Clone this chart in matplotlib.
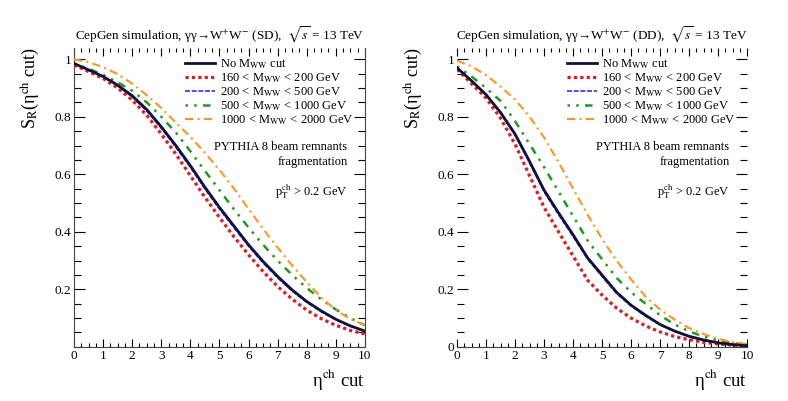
import matplotlib
matplotlib.use("Agg")
import matplotlib.pyplot as plt
from matplotlib.ticker import MultipleLocator

plt.rcParams['font.family'] = ['Liberation Serif', 'DejaVu Serif']
plt.rcParams['mathtext.fontset'] = 'stix'

eta = [0, 0.5, 1, 1.5, 2, 2.5, 3, 3.5, 4, 4.5, 5, 5.5, 6, 6.5, 7, 7.5, 8, 8.5, 9, 9.5, 10]

# single dissociation (SD)
sd_all = [0.985, 0.963, 0.94, 0.91, 0.873, 0.825, 0.765, 0.7, 0.63, 0.555, 0.485,
          0.42, 0.355, 0.297, 0.245, 0.198, 0.158, 0.125, 0.096, 0.073, 0.055]
sd_160 = [0.98, 0.957, 0.933, 0.9, 0.858, 0.805, 0.74, 0.67, 0.595, 0.52, 0.45,
          0.383, 0.32, 0.262, 0.21, 0.166, 0.128, 0.098, 0.075, 0.057, 0.045]
sd_200 = [0.985, 0.962, 0.938, 0.907, 0.869, 0.82, 0.76, 0.694, 0.624, 0.549, 0.479,
          0.414, 0.35, 0.292, 0.24, 0.194, 0.155, 0.122, 0.094, 0.072, 0.054]
sd_500 = [0.985, 0.967, 0.946, 0.92, 0.89, 0.85, 0.8, 0.745, 0.68, 0.612, 0.545,
          0.478, 0.415, 0.355, 0.3, 0.25, 0.205, 0.165, 0.13, 0.1, 0.075]
sd_1000 = [1.0, 0.99, 0.972, 0.948, 0.915, 0.875, 0.83, 0.78, 0.73, 0.675, 0.615,
           0.55, 0.48, 0.41, 0.345, 0.283, 0.225, 0.172, 0.128, 0.097, 0.075]

# double dissociation (DD)
dd_all = [0.97, 0.925, 0.877, 0.815, 0.74, 0.645, 0.545, 0.466, 0.39, 0.31, 0.25,
          0.19, 0.145, 0.11, 0.078, 0.055, 0.037, 0.024, 0.014, 0.008, 0.004]
dd_160 = [0.965, 0.915, 0.865, 0.795, 0.705, 0.595, 0.485, 0.4, 0.316, 0.232, 0.18,
          0.135, 0.1, 0.073, 0.052, 0.036, 0.025, 0.016, 0.01, 0.006, 0.003]
dd_200 = [0.97, 0.923, 0.875, 0.812, 0.736, 0.64, 0.54, 0.46, 0.384, 0.305, 0.245,
          0.186, 0.142, 0.107, 0.076, 0.054, 0.036, 0.023, 0.014, 0.008, 0.004]
dd_500 = [0.975, 0.94, 0.9, 0.855, 0.785, 0.705, 0.625, 0.54, 0.455, 0.37, 0.305,
          0.24, 0.19, 0.15, 0.11, 0.078, 0.054, 0.036, 0.022, 0.013, 0.007]
dd_1000 = [0.995, 0.975, 0.945, 0.905, 0.86, 0.8, 0.728, 0.642, 0.55, 0.46, 0.375,
           0.3, 0.235, 0.175, 0.13, 0.095, 0.065, 0.045, 0.028, 0.017, 0.01]

labels = [r"No M$_{\rm WW}$ cut",
          r"160 < M$_{\rm WW}$ < 200 GeV",
          r"200 < M$_{\rm WW}$ < 500 GeV",
          r"500 < M$_{\rm WW}$ < 1000 GeV",
          r"1000 < M$_{\rm WW}$ < 2000 GeV"]
colors = ['#10103a', '#e3191c', '#3030ff', '#1f9a1f', '#ff9420']
styles = ['-', (0, (1, 1)), (0, (3, 1)), (0, (1, 2.5, 1, 2.5, 3, 2.5)), (0, (4, 2, 1, 2))]
widths = [2.0, 2.3, 1.2, 1.8, 1.5]
zorders = [5, 3, 2, 3, 3]

fig = plt.figure(figsize=(7.88, 4.01), dpi=100)
ax1 = fig.add_axes([0.094, 0.135, 0.369, 0.746])
ax2 = fig.add_axes([0.58, 0.135, 0.368, 0.746])

panels = [(ax1, [sd_all, sd_160, sd_200, sd_500, sd_1000], "SD"),
          (ax2, [dd_all, dd_160, dd_200, dd_500, dd_1000], "DD")]

for ax, series, tag in panels:
    for s, lab, c, ls, lw, z in zip(series, labels, colors, styles, widths, zorders):
        ax.plot(eta, s, color=c, linestyle=ls, linewidth=lw, label=lab, zorder=z)
    ax.set_xlim(0, 10)
    ax.set_ylim(0, 1.04)
    ax.xaxis.set_major_locator(MultipleLocator(1))
    ax.xaxis.set_minor_locator(MultipleLocator(0.25))
    ax.yaxis.set_major_locator(MultipleLocator(0.2))
    ax.yaxis.set_minor_locator(MultipleLocator(0.05))
    ax.tick_params(which='both', direction='in', top=True, right=True, labelsize=9.5, pad=2)
    ax.tick_params(which='major', axis='y', length=8, width=0.8)
    ax.tick_params(which='minor', axis='y', length=5, width=0.8)
    ax.tick_params(which='major', axis='x', length=6, width=0.8)
    ax.tick_params(which='minor', axis='x', length=3, width=0.8)
    ax.spines['top'].set_visible(False)
    for sp in ax.spines.values():
        sp.set_color('#444444')
    ax.set_title("CepGen simulation, γγ→W$^{+}$W$^{-}$ (%s),  $\\sqrt{s}$ = 13 TeV" % tag,
                 fontsize=9.5, pad=6)
    ax.set_ylabel("S$_{\\rm R}$(η$^{\\rm ch}$ cut)", fontsize=13, loc='top')
    ax.yaxis.set_label_coords(-0.115, 1.0)
    ax.set_xlabel("η$^{\\rm ch}$ cut", fontsize=13.5, loc='right')
    ax.legend(loc='upper left', bbox_to_anchor=(0.38, 0.968), frameon=False, fontsize=9,
              handlelength=2.4, handletextpad=0.4, labelspacing=0.02, borderpad=0, borderaxespad=0)
    ax.text(0.94, 0.669, "PYTHIA 8 beam remnants", transform=ax.transAxes, ha='right', va='center', fontsize=9)
    ax.text(0.94, 0.619, "fragmentation", transform=ax.transAxes, ha='right', va='center', fontsize=9)
    ax.text(0.94, 0.518, "p$_{\\rm T}^{\\rm ch}$ > 0.2 GeV", transform=ax.transAxes, ha='right', va='center', fontsize=9)

# left panel: no "0" label on y
ax1.set_yticks([0.2, 0.4, 0.6, 0.8, 1.0])
ax1.set_yticklabels(["0.2", "0.4", "0.6", "0.8", "1"])
ax2.set_yticks([0, 0.2, 0.4, 0.6, 0.8, 1.0])
ax2.set_yticklabels(["0", "0.2", "0.4", "0.6", "0.8", "1"])

# right panel: only the bottom axis line is drawn
ax2.spines['left'].set_visible(False)
ax2.spines['right'].set_visible(False)

fig.savefig("out.png", dpi=100)
